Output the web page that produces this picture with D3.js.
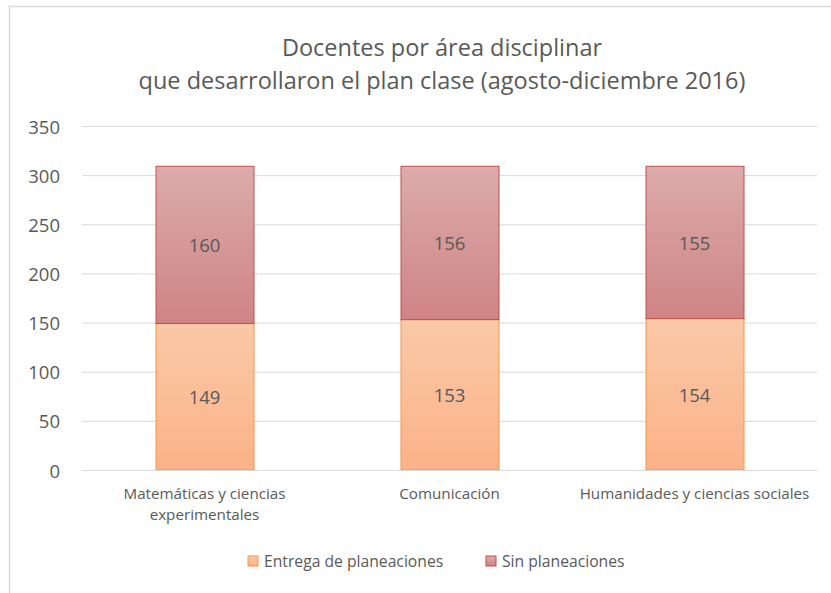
<!DOCTYPE html>
<html>
<head>
<meta charset="utf-8">
<script src="https://cdn.jsdelivr.net/npm/d3@7"></script>
<style>
  body { margin: 0; background: #fff; }
  svg { display: block; font-family: "Open Sans", sans-serif; }
</style>
</head>
<body>
<div id="chart"></div>
<script>
const categories = ['Matemáticas y ciencias|experimentales', 'Comunicación', 'Humanidades y ciencias sociales'];
const entrega = [149, 153, 154];
const sinPlan = [160, 156, 155];
const yTicks = [0, 50, 100, 150, 200, 250, 300, 350];
const seriesNames = ['Entrega de planeaciones', 'Sin planeaciones'];
const titleLines = ['Docentes por área disciplinar', 'que desarrollaron el plan clase (agosto-diciembre 2016)'];

const W = 831, H = 593;
const margin = { top: 126, right: 14, bottom: 123, left: 82 };
const width = W - margin.left - margin.right,
      height = H - margin.top - margin.bottom;

const svg = d3.select('#chart').append('svg').attr('width', W).attr('height', H);

// 渐变
const defs = svg.append('defs');
function grad(id, c1, c2) {
  const g = defs.append('linearGradient').attr('id', id)
    .attr('x1', 0).attr('y1', 0).attr('x2', 0).attr('y2', 1);
  g.append('stop').attr('offset', '0%').attr('stop-color', c1);
  g.append('stop').attr('offset', '100%').attr('stop-color', c2);
}
grad('gOrange', '#f9c9a8', '#fbb287');
grad('gRed', '#dcabab', '#cf8484');

// 外框
svg.append('rect')
  .attr('x', 9.5).attr('y', 6.5)
  .attr('width', W).attr('height', H)
  .attr('fill', 'none').attr('stroke', '#d9d9d9').attr('stroke-width', 1.5);

const g = svg.append('g').attr('transform', `translate(${margin.left},${margin.top})`);

const x = d3.scaleBand().domain(categories).range([0, width]).paddingInner(0.6).paddingOuter(0.3);
const y = d3.scaleLinear().domain([0, 350]).range([height, 0]);

// 网格
g.append('g')
  .call(d3.axisLeft(y).tickValues(yTicks).tickSize(-width).tickFormat(''))
  .call(a => a.select('.domain').remove())
  .selectAll('.tick line').attr('stroke', '#d9d9d9');

// y 轴标签
g.append('g').selectAll('text')
  .data(yTicks).enter().append('text')
  .attr('x', -22).attr('y', d => y(d))
  .attr('text-anchor', 'end').attr('dominant-baseline', 'central')
  .style('font-size', '18.5px').style('fill', '#595959')
  .text(d => d);

const data = categories.map((c, i) => ({ cat: c, entrega: entrega[i], sin: sinPlan[i] }));
const stack = d3.stack().keys(['entrega', 'sin'])(data);
const fills = ['url(#gOrange)', 'url(#gRed)'];
const strokes = ['#f79646', '#c0504d'];

const layer = g.selectAll('.layer').data(stack).enter().append('g');
layer.selectAll('rect').data((d, i) => d.map(v => ({ v, i }))).enter().append('rect')
  .attr('x', d => x(d.v.data.cat) + 0.5)
  .attr('y', d => y(d.v[1]))
  .attr('width', x.bandwidth())
  .attr('height', d => y(d.v[0]) - y(d.v[1]))
  .attr('fill', d => fills[d.i])
  .attr('stroke', d => strokes[d.i]).attr('stroke-width', 1);

layer.selectAll('text').data(d => d).enter().append('text')
  .attr('x', d => x(d.data.cat) + x.bandwidth() / 2)
  .attr('y', d => (y(d[0]) + y(d[1])) / 2)
  .attr('text-anchor', 'middle').attr('dominant-baseline', 'central')
  .style('font-size', '18.5px').style('fill', '#595959')
  .text(d => d[1] - d[0]);

// 底轴线
g.append('line').attr('x1', 0).attr('x2', width).attr('y1', height + 0.5).attr('y2', height + 0.5)
  .attr('stroke', '#d9d9d9');

// 分类标签
categories.forEach(c => {
  const t = g.append('text')
    .attr('x', x(c) + x.bandwidth() / 2).attr('y', height + 29)
    .attr('text-anchor', 'middle')
    .style('font-size', '15.2px').style('fill', '#595959');
  c.split('|').forEach((line, j) => {
    t.append('tspan').attr('x', x(c) + x.bandwidth() / 2).attr('dy', j ? 21 : 0).text(line);
  });
});

// 标题
titleLines.forEach((s, i) => {
  svg.append('text')
    .attr('x', 442).attr('y', 56 + i * 33)
    .attr('text-anchor', 'middle')
    .style('font-size', '23.5px').style('fill', '#595959')
    .text(s);
});

// 图例
const legendX = [248, 486];
seriesNames.forEach((n, i) => {
  svg.append('rect').attr('x', legendX[i]).attr('y', 556).attr('width', 10).attr('height', 10)
    .attr('fill', fills[i]).attr('stroke', strokes[i]);
  svg.append('text').attr('x', legendX[i] + 16).attr('y', 567)
    .style('font-size', '15.7px').style('fill', '#595959')
    .text(n);
});
</script>
</body>
</html>
